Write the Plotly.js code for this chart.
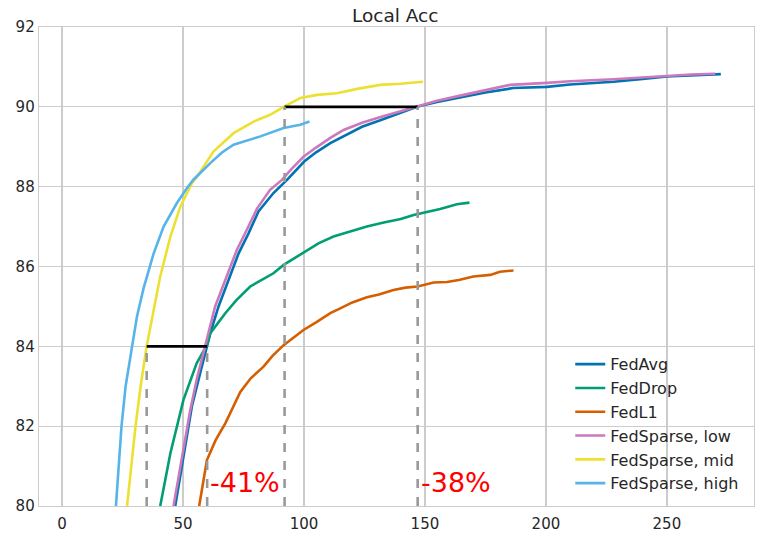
<!DOCTYPE html>
<html>
<head>
<meta charset="utf-8">
<script src="https://cdn.plot.ly/plotly-3.0.1.min.js"></script>
<style>
  html, body { margin: 0; padding: 0; background: #ffffff; }
  #chart { width: 760px; height: 539px; }
</style>
</head>
<body>
<div id="chart"></div>
<script>
// values
const series_names = ["FedAvg", "FedDrop", "FedL1", "FedSparse, low", "FedSparse, mid", "FedSparse, high"];
const series_colors = ["#0173b2", "#029e73", "#d55e00", "#cc78bc", "#ece133", "#56b4e9"];

const fedavg_x = [46.8, 50.5, 53.7, 57, 60, 61.3, 64.7, 68.8, 73, 77.1, 81.2, 87.4, 93, 100.1, 105, 110.9, 117.8, 124, 131, 139, 146.7, 155, 166, 175, 186.5, 200.4, 210, 228, 240, 250, 262, 272.3];
const fedavg_y = [80, 81.3, 82.5, 83.3, 84, 84.33, 85, 85.66, 86.33, 86.83, 87.38, 87.84, 88.17, 88.63, 88.86, 89.09, 89.3, 89.5, 89.65, 89.82, 90.0, 90.12, 90.25, 90.36, 90.47, 90.5, 90.56, 90.63, 90.7, 90.76, 90.79, 90.82];

const feddrop_x = [40.6, 44.8, 50.2, 55.7, 59.9, 61.3, 67.5, 72, 77.8, 87.4, 91.6, 98.5, 106, 112.2, 119, 126, 133, 140, 145.3, 151, 156.3, 163.2, 168.4];
const feddrop_y = [80, 81.32, 82.66, 83.58, 84.03, 84.33, 84.83, 85.15, 85.5, 85.83, 86.04, 86.29, 86.58, 86.75, 86.88, 87.0, 87.1, 87.19, 87.29, 87.37, 87.44, 87.56, 87.6];

const fedl1_x = [56.7, 59.9, 63.5, 67.5, 73.7, 78, 83.3, 87, 91.6, 95.5, 99.8, 105, 110.9, 115, 120, 126, 131, 137, 142, 147, 153.6, 159.1, 164, 170, 174, 177, 181, 186.6];
const fedl1_y = [80, 81.15, 81.65, 82.07, 82.86, 83.2, 83.49, 83.76, 84.03, 84.2, 84.41, 84.6, 84.83, 84.95, 85.1, 85.23, 85.3, 85.41, 85.47, 85.5, 85.6, 85.61, 85.66, 85.75, 85.77, 85.79, 85.87, 85.9];

const sparse_low_x = [46.1, 50, 53, 55.8, 59.9, 63.3, 67.5, 72.3, 76.4, 80.6, 86, 90.9, 95, 99.8, 105, 110.9, 116.4, 124, 131, 139, 146.7, 155, 166, 175, 185.2, 200.4, 210, 228, 240, 250, 260, 270];
const sparse_low_y = [80, 81.4, 82.4, 83.2, 84.16, 85.0, 85.66, 86.42, 86.92, 87.45, 87.92, 88.17, 88.45, 88.75, 88.98, 89.22, 89.42, 89.6, 89.73, 89.87, 90.0, 90.15, 90.3, 90.42, 90.55, 90.6, 90.64, 90.69, 90.74, 90.78, 90.81, 90.83];

const sparse_mid_x = [26.9, 28.6, 30.4, 32.5, 35, 37.9, 40.6, 44.8, 48.9, 53.7, 55.8, 62.6, 70.9, 79.2, 86, 91.6, 98.5, 105.4, 113.6, 122, 131.5, 139.8, 149.2];
const sparse_mid_y = [80, 81, 82, 83, 84, 84.91, 85.75, 86.75, 87.5, 88.09, 88.25, 88.88, 89.34, 89.63, 89.8, 90.0, 90.22, 90.3, 90.34, 90.45, 90.55, 90.58, 90.63];

const sparse_high_x = [22.3, 23.3, 24.6, 26.3, 28.7, 31, 33.7, 37.9, 42, 47.5, 51.6, 54.4, 61.3, 66, 70.9, 75, 82, 91.6, 98.5, 102.3];
const sparse_high_y = [80, 81, 82, 83, 83.9, 84.75, 85.45, 86.33, 87.0, 87.59, 87.96, 88.18, 88.59, 88.85, 89.05, 89.13, 89.26, 89.47, 89.55, 89.63];

// target accuracies and the communication needed to reach them
const target_acc = [84, 90];
const rounds_fast = [35, 92];
const rounds_slow = [60, 147];
const saving_labels = ["-41%", "-38%"];

const x_ticks = [0, 50, 100, 150, 200, 250];
const y_ticks = [80, 82, 84, 86, 88, 90, 92];

const TEXT_COLOR = "#262626";
const GRID_COLOR = "#cccccc";
const FONT = "DejaVu Sans, Liberation Sans, sans-serif";

function line_trace(x, y, name, color) {
  return {
    type: "scatter",
    mode: "lines",
    x: x,
    y: y,
    name: name,
    line: {color: color, width: 2.6},
  };
}

const all_x = [fedavg_x, feddrop_x, fedl1_x, sparse_low_x, sparse_mid_x, sparse_high_x];
const all_y = [fedavg_y, feddrop_y, fedl1_y, sparse_low_y, sparse_mid_y, sparse_high_y];

let traces = [];
for (let i = 0; i < series_names.length; i++) {
  traces.push(line_trace(all_x[i], all_y[i], series_names[i], series_colors[i]));
}

// horizontal black segments and gray dashed drops
for (let i = 0; i < target_acc.length; i++) {
  traces.push({
    type: "scatter", mode: "lines", showlegend: false, hoverinfo: "skip",
    x: [rounds_fast[i], rounds_slow[i]],
    y: [target_acc[i], target_acc[i]],
    line: {color: "#000000", width: 2.6},
  });
  traces.push({
    type: "scatter", mode: "lines", showlegend: false, hoverinfo: "skip",
    x: [rounds_fast[i], rounds_fast[i], null, rounds_slow[i], rounds_slow[i]],
    y: [80, target_acc[i], null, 80, target_acc[i]],
    line: {color: "#999999", width: 2.6, dash: "dash"},
  });
}

let annotations = [];
for (let i = 0; i < saving_labels.length; i++) {
  annotations.push({
    x: rounds_slow[i] + 0.5,
    y: 80.58,
    xref: "x", yref: "y",
    text: saving_labels[i],
    showarrow: false,
    xanchor: "left",
    yanchor: "middle",
    font: {family: FONT, size: 27, color: "#ff0000"},
  });
}

const layout = {
  width: 760,
  height: 539,
  margin: {l: 39, r: 6, t: 27, b: 33, pad: 0},
  paper_bgcolor: "#ffffff",
  plot_bgcolor: "#ffffff",
  showlegend: true,
  hovermode: false,
  font: {family: FONT, color: TEXT_COLOR, size: 15},
  title: {
    text: "Local Acc",
    font: {family: FONT, size: 18.5, color: TEXT_COLOR},
    x: 0.52, xanchor: "center",
    y: 0.972, yanchor: "middle",
  },
  xaxis: {
    range: [-9.5, 286],
    tickmode: "array",
    tickvals: x_ticks,
    showgrid: true,
    gridcolor: GRID_COLOR,
    gridwidth: 1.3,
    zeroline: false,
    showline: true,
    mirror: true,
    linecolor: GRID_COLOR,
    linewidth: 1.3,
    ticks: "outside",
    ticklen: 4,
    tickcolor: "rgba(0,0,0,0)",
    tickfont: {family: FONT, size: 15, color: TEXT_COLOR},
  },
  yaxis: {
    range: [80, 92],
    tickmode: "array",
    tickvals: y_ticks,
    showgrid: true,
    gridcolor: GRID_COLOR,
    gridwidth: 1.3,
    zeroline: false,
    showline: true,
    mirror: true,
    linecolor: GRID_COLOR,
    linewidth: 1.3,
    ticks: "",
    tickfont: {family: FONT, size: 15, color: TEXT_COLOR},
  },
  legend: {
    x: 0.743, y: 0.012,
    xanchor: "left", yanchor: "bottom",
    bgcolor: "rgba(0,0,0,0)",
    borderwidth: 0,
    font: {family: FONT, size: 16, color: TEXT_COLOR},
  },
  annotations: annotations,
};

Plotly.newPlot("chart", traces, layout, {displayModeBar: false, staticPlot: true});
</script>
</body>
</html>
